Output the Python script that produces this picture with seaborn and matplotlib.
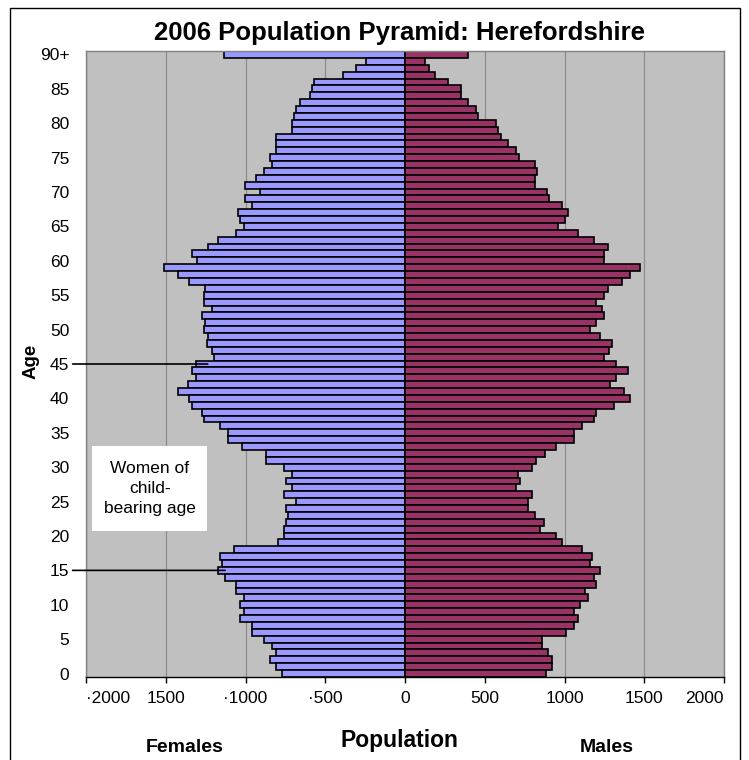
import matplotlib
matplotlib.use("Agg")
import matplotlib.pyplot as plt
import pandas as pd
import seaborn as sns
from matplotlib.patches import Rectangle

# ages 0 .. 89 then 90+
ages = [str(a) for a in range(90)] + ["90+"]

females = [773, 809, 844, 809, 836, 886, 961, 961, 1032, 1011,
           1032, 1011, 1060, 1060, 1128, 1174, 1149, 1158, 1074, 794,
           761, 761, 746, 736, 746, 683, 761, 711, 746, 711,
           761, 872, 872, 1024, 1112, 1112, 1158, 1262, 1275, 1337,
           1352, 1425, 1363, 1310, 1335, 1310, 1200, 1212, 1244, 1237,
           1262, 1252, 1275, 1212, 1262, 1262, 1252, 1352, 1425, 1513,
           1304, 1337, 1237, 1174, 1060, 1011, 1034, 1049, 961, 1001,
           911, 1001, 934, 884, 836, 846, 809, 809, 809, 708,
           708, 698, 683, 658, 594, 583, 573, 391, 307, 245,
           1137]

males = [884, 922, 922, 895, 859, 859, 1010, 1057, 1083, 1057,
         1097, 1145, 1131, 1197, 1183, 1223, 1160, 1170, 1110, 984,
         947, 846, 869, 817, 769, 769, 796, 696, 721, 706,
         796, 821, 880, 947, 1057, 1057, 1110, 1183, 1197, 1308,
         1411, 1371, 1285, 1323, 1396, 1323, 1246, 1281, 1298, 1223,
         1160, 1197, 1250, 1233, 1197, 1246, 1271, 1359, 1409, 1473,
         1246, 1246, 1271, 1183, 1083, 957, 1005, 1020, 982, 905,
         890, 817, 817, 828, 817, 717, 696, 644, 602, 581,
         571, 456, 443, 393, 351, 351, 268, 190, 153, 128,
         393]

x_ticks = [-2000, -1500, -1000, -500, 0, 500, 1000, 1500, 2000]
x_ticklabels = ["·2000", "1500", "·1000", "·500", "0", "500", "1000", "1500", "2000"]
age_ticks = [str(a) for a in range(0, 90, 5)] + ["90+"]
bracket_ages = ["45", "15"]
bracket_ends = [-1237, -1128]

df = pd.DataFrame({"age": ages,
                   "Females": [-v for v in females],
                   "Males": males})
order = ages[::-1]

sns.set_style("white")
plt.rcParams["font.family"] = ["Liberation Sans", "DejaVu Sans"]
plt.rcParams["text.color"] = "black"
plt.rcParams["xtick.labelcolor"] = "black"
plt.rcParams["ytick.labelcolor"] = "black"

W, H = 749, 760
fig = plt.figure(figsize=(W / 100, H / 100), dpi=100)
ax = fig.add_axes([86 / W, 1 - 677 / H, 638 / W, 626 / H])
ax.set_facecolor("#C0C0C0")

sns.barplot(data=df, x="Females", y="age", order=order, orient="h", ax=ax,
            color="#9999FF", saturation=1, width=1, edgecolor="black",
            linewidth=1.2, errorbar=None, zorder=2)
sns.barplot(data=df, x="Males", y="age", order=order, orient="h", ax=ax,
            color="#993366", saturation=1, width=1, edgecolor="black",
            linewidth=1.2, errorbar=None, zorder=2)

ax.set_xlim(-2000, 2000)
ax.set_ylim(len(order) - 0.5, -0.5)
ax.set_xticks(x_ticks)
ax.set_xticklabels(x_ticklabels, fontsize=12.5)
xlabs = ax.get_xticklabels()
xlabs[0].set_ha("left")
xlabs[-1].set_ha("right")
ax.set_yticks([order.index(a) for a in age_ticks])
ax.set_yticklabels(age_ticks, fontsize=12.5)
ax.tick_params(axis="x", direction="out", length=4, width=1, color="black", pad=6, bottom=True)
ax.tick_params(axis="y", length=0, pad=12)
ax.set_xlabel("")
ax.set_ylabel("")

ax.grid(axis="x", color="#8C8C8C", linewidth=0.9)
ax.grid(axis="y", visible=False)
ax.set_axisbelow(True)
for side in ["left", "top", "right"]:
    ax.spines[side].set_color("#808080")
    ax.spines[side].set_linewidth(1)
ax.spines["bottom"].set_color("black")
ax.spines["bottom"].set_linewidth(1)

# brackets for women of child-bearing age
for a, xe in zip(bracket_ages, bracket_ends):
    yp = order.index(a)
    ax.annotate("", xy=(xe, yp), xycoords="data",
                xytext=(-0.021, yp), textcoords=("axes fraction", "data"),
                arrowprops=dict(arrowstyle="-", color="black", lw=1.2,
                                shrinkA=0, shrinkB=0), zorder=5)

ax.add_patch(Rectangle((-1962, 56.9), 721, 12.4, facecolor="white",
                       edgecolor="none", zorder=4))
ax.text(-1600, 63.1, "Women of\nchild-\nbearing age", ha="center", va="center",
        fontsize=12.5, linespacing=1.4, zorder=5)

fig.text(400 / W, 1 - 33 / H, "2006 Population Pyramid: Herefordshire",
         ha="center", va="center", fontsize=18.5, fontweight="bold")
fig.text(31 / W, 1 - 361 / H, "Age", rotation=90, ha="center", va="center",
         fontsize=13.5, fontweight="bold")
fig.text(399 / W, 1 - 740 / H, "Population", ha="center", va="center",
         fontsize=16.5, fontweight="bold")
fig.text(185 / W, 1 - 748 / H, "Females", ha="center", va="center",
         fontsize=14, fontweight="bold")
fig.text(607 / W, 1 - 748 / H, "Males", ha="center", va="center",
         fontsize=14, fontweight="bold")

fig.patches.append(Rectangle((10 / W, -0.02), 730 / W, 1 - 8 / H + 0.02,
                             transform=fig.transFigure, fill=False,
                             edgecolor="black", linewidth=1))

fig.savefig("out.png", dpi=100, facecolor="white")
